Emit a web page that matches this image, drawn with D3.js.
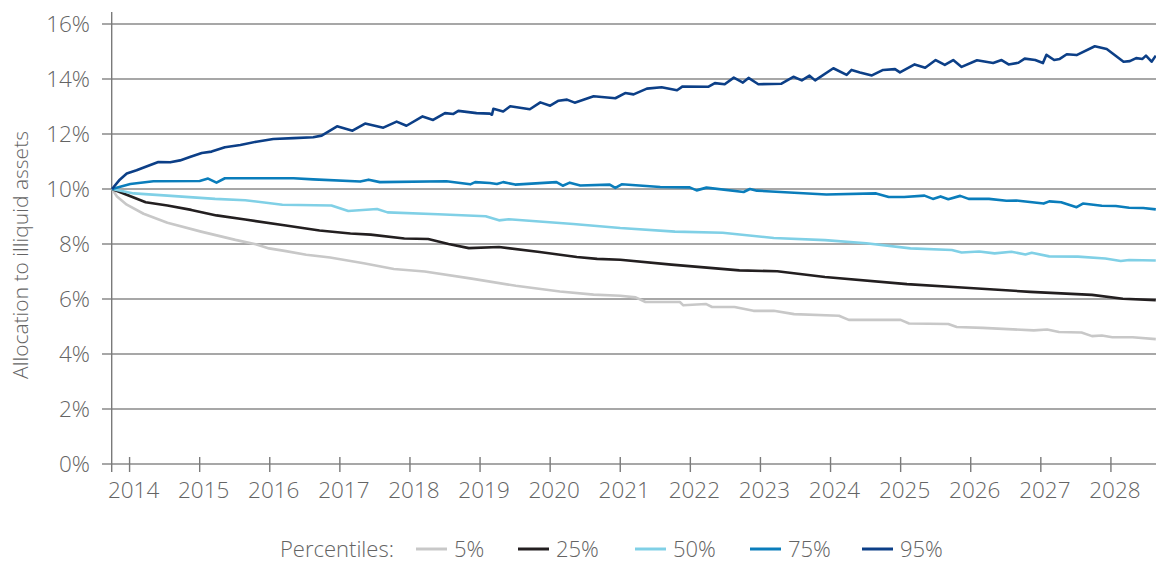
<!DOCTYPE html>
<html>
<head>
<meta charset="utf-8">
<script src="https://cdn.jsdelivr.net/npm/d3@7"></script>
<style>
  html, body { margin: 0; padding: 0; background: #fff; }
  svg { display: block; }
  text { font-family: "Open Sans", "Noto Sans", sans-serif; fill: #646464; font-weight: 300; }
</style>
</head>
<body>
<svg id="chart" width="1156" height="562"></svg>
<script>
// ---- data (decimal years, allocation in %) ----
const yTicks = [0, 2, 4, 6, 8, 10, 12, 14, 16];
const yearTicks = [2014, 2015, 2016, 2017, 2018, 2019, 2020, 2021, 2022, 2023, 2024, 2025, 2026, 2027, 2028];
const percentileLabels = ["5%", "25%", "50%", "75%", "95%"];
const seriesColors = ["#c8c8c8", "#231f20", "#80d0e6", "#0a7dbb", "#0c3f87"];

const years5 = [2013.75, 2013.82, 2013.96, 2014.20, 2014.54, 2015.02, 2015.51, 2015.80, 2015.99, 2016.21, 2016.52, 2016.86, 2017.34, 2017.77, 2018.21, 2018.88, 2019.51, 2020.14, 2020.62, 2021.00, 2021.22, 2021.36, 2021.85, 2021.90, 2022.22, 2022.31, 2022.63, 2022.90, 2023.19, 2023.48, 2024.12, 2024.26, 2025.00, 2025.12, 2025.68, 2025.80, 2026.17, 2026.90, 2027.09, 2027.26, 2027.58, 2027.73, 2027.87, 2028.02, 2028.31, 2028.64];
const values5 = [10.00, 9.73, 9.43, 9.10, 8.77, 8.45, 8.15, 7.99, 7.84, 7.75, 7.61, 7.51, 7.30, 7.09, 7.00, 6.74, 6.48, 6.27, 6.16, 6.12, 6.06, 5.89, 5.89, 5.77, 5.82, 5.71, 5.71, 5.57, 5.57, 5.45, 5.39, 5.24, 5.24, 5.11, 5.09, 4.98, 4.95, 4.86, 4.89, 4.80, 4.78, 4.65, 4.67, 4.61, 4.61, 4.54];

const years25 = [2013.75, 2014.23, 2014.54, 2014.88, 2015.24, 2015.65, 2016.23, 2016.71, 2017.15, 2017.44, 2017.92, 2018.26, 2018.55, 2018.84, 2019.27, 2019.85, 2020.38, 2020.67, 2021.00, 2021.73, 2022.70, 2023.24, 2023.92, 2025.09, 2025.87, 2026.85, 2027.73, 2028.17, 2028.64];
const values25 = [10.00, 9.52, 9.40, 9.24, 9.04, 8.89, 8.67, 8.49, 8.38, 8.34, 8.20, 8.18, 8.00, 7.85, 7.89, 7.71, 7.53, 7.46, 7.43, 7.25, 7.04, 7.01, 6.80, 6.54, 6.42, 6.26, 6.15, 6.01, 5.96];

const years50 = [2013.75, 2014.06, 2014.54, 2015.22, 2015.65, 2016.18, 2016.88, 2017.12, 2017.53, 2017.68, 2018.40, 2019.08, 2019.27, 2019.41, 2020.33, 2021.00, 2021.78, 2022.46, 2023.19, 2023.92, 2024.51, 2025.14, 2025.73, 2025.87, 2026.12, 2026.34, 2026.58, 2026.78, 2026.87, 2027.12, 2027.53, 2027.92, 2028.14, 2028.26, 2028.64];
const values50 = [10.00, 9.84, 9.76, 9.64, 9.59, 9.43, 9.40, 9.20, 9.27, 9.15, 9.08, 9.01, 8.86, 8.90, 8.73, 8.58, 8.45, 8.41, 8.22, 8.14, 8.03, 7.84, 7.78, 7.69, 7.73, 7.66, 7.72, 7.62, 7.68, 7.55, 7.54, 7.47, 7.38, 7.42, 7.40];

const years75 = [2013.75, 2014.01, 2014.34, 2015.00, 2015.12, 2015.24, 2015.36, 2016.34, 2016.62, 2017.29, 2017.41, 2017.57, 2018.52, 2018.86, 2018.93, 2019.14, 2019.24, 2019.33, 2019.50, 2020.09, 2020.18, 2020.28, 2020.43, 2020.85, 2020.93, 2021.02, 2021.57, 2021.99, 2022.09, 2022.23, 2022.76, 2022.85, 2022.95, 2023.94, 2024.65, 2024.83, 2025.05, 2025.34, 2025.46, 2025.57, 2025.68, 2025.85, 2025.97, 2026.26, 2026.51, 2026.65, 2027.04, 2027.12, 2027.29, 2027.51, 2027.60, 2027.87, 2028.07, 2028.26, 2028.46, 2028.64];
const values75 = [10.00, 10.18, 10.28, 10.29, 10.38, 10.23, 10.39, 10.39, 10.35, 10.27, 10.34, 10.25, 10.28, 10.17, 10.25, 10.22, 10.18, 10.25, 10.16, 10.25, 10.12, 10.23, 10.13, 10.16, 10.04, 10.17, 10.07, 10.06, 9.95, 10.05, 9.89, 10.00, 9.94, 9.80, 9.84, 9.71, 9.71, 9.76, 9.64, 9.73, 9.63, 9.75, 9.64, 9.64, 9.57, 9.58, 9.47, 9.55, 9.52, 9.34, 9.47, 9.39, 9.38, 9.32, 9.31, 9.26];

const years95 = [2013.75, 2013.86, 2013.96, 2014.10, 2014.24, 2014.41, 2014.58, 2014.72, 2014.86, 2015.03, 2015.17, 2015.36, 2015.58, 2015.81, 2016.05, 2016.34, 2016.62, 2016.74, 2016.96, 2017.18, 2017.36, 2017.62, 2017.81, 2017.95, 2018.18, 2018.33, 2018.50, 2018.62, 2018.69, 2018.95, 2019.14, 2019.17, 2019.19, 2019.33, 2019.43, 2019.71, 2019.86, 2020.00, 2020.12, 2020.24, 2020.35, 2020.62, 2020.93, 2021.07, 2021.19, 2021.38, 2021.59, 2021.81, 2021.89, 2022.26, 2022.35, 2022.49, 2022.62, 2022.75, 2022.83, 2022.97, 2023.30, 2023.47, 2023.59, 2023.70, 2023.78, 2024.04, 2024.23, 2024.30, 2024.42, 2024.59, 2024.75, 2024.92, 2024.99, 2025.20, 2025.35, 2025.50, 2025.63, 2025.75, 2025.87, 2026.09, 2026.32, 2026.44, 2026.54, 2026.68, 2026.77, 2026.92, 2027.03, 2027.08, 2027.19, 2027.27, 2027.37, 2027.51, 2027.77, 2027.94, 2028.18, 2028.27, 2028.36, 2028.45, 2028.50, 2028.58, 2028.64];
const values95 = [10.00, 10.34, 10.56, 10.68, 10.82, 10.98, 10.97, 11.04, 11.16, 11.31, 11.36, 11.52, 11.60, 11.72, 11.82, 11.85, 11.88, 11.94, 12.28, 12.12, 12.38, 12.23, 12.45, 12.30, 12.64, 12.51, 12.76, 12.73, 12.84, 12.76, 12.74, 12.70, 12.92, 12.82, 13.01, 12.90, 13.15, 13.03, 13.21, 13.25, 13.14, 13.37, 13.30, 13.49, 13.44, 13.65, 13.70, 13.59, 13.73, 13.72, 13.85, 13.81, 14.05, 13.87, 14.04, 13.81, 13.83, 14.08, 13.95, 14.12, 13.95, 14.39, 14.15, 14.33, 14.24, 14.13, 14.33, 14.36, 14.24, 14.53, 14.41, 14.69, 14.51, 14.69, 14.44, 14.68, 14.58, 14.69, 14.53, 14.59, 14.74, 14.69, 14.58, 14.88, 14.69, 14.73, 14.90, 14.87, 15.19, 15.09, 14.63, 14.65, 14.76, 14.73, 14.85, 14.63, 14.85];

const seriesYears = [years5, years25, years50, years75, years95];
const seriesValues = [values5, values25, values50, values75, values95];

// ---- layout ----
const svg = d3.select("#chart");
const x = d3.scaleLinear().domain([2013.745, 2028.643]).range([111.7, 1156]);
const y = d3.scaleLinear().domain([0, 16]).range([464, 24]);

// gridlines
svg.append("g").selectAll("line").data(yTicks).join("line")
  .attr("x1", 102).attr("x2", 1156)
  .attr("y1", d => y(d)).attr("y2", d => y(d))
  .attr("stroke", "#8a8a8a").attr("stroke-width", 1.4);

// y tick labels
svg.append("g").selectAll("text").data(yTicks).join("text")
  .attr("x", 90).attr("y", d => y(d))
  .attr("dy", "0.36em")
  .attr("text-anchor", "end")
  .style("font-size", "22.5px")
  .text(d => d + "%");

// y axis line
svg.append("line")
  .attr("x1", x.range()[0]).attr("x2", x.range()[0])
  .attr("y1", 12).attr("y2", 472)
  .attr("stroke", "#7a7a7a").attr("stroke-width", 1.4);

// x ticks (crossing the baseline)
svg.append("g").selectAll("line").data(yearTicks).join("line")
  .attr("x1", d => x(d)).attr("x2", d => x(d))
  .attr("y1", y(0) - 7).attr("y2", y(0) + 8)
  .attr("stroke", "#7a7a7a").attr("stroke-width", 1.4);

// x tick labels
svg.append("g").selectAll("text").data(yearTicks).join("text")
  .attr("x", d => x(d) + 4).attr("y", 498)
  .attr("text-anchor", "middle")
  .style("font-size", "22.5px")
  .text(d => d);

// y axis title
svg.append("text")
  .attr("transform", "translate(28,255) rotate(-90)")
  .attr("text-anchor", "middle")
  .style("font-size", "21px")
  .text("Allocation to illiquid assets");

// lines
svg.append("defs").append("clipPath").attr("id", "plotclip")
  .append("rect").attr("x", 100).attr("y", 0).attr("width", 1056).attr("height", 480);

const line = d3.line().x(d => x(d[0])).y(d => y(d[1]));
const plot = svg.append("g").attr("clip-path", "url(#plotclip)");
seriesYears.forEach((yrs, i) => {
  const pts = yrs.map((yr, j) => [yr, seriesValues[i][j]]);
  plot.append("path")
    .datum(pts)
    .attr("fill", "none")
    .attr("stroke", seriesColors[i])
    .attr("stroke-width", 2.6)
    .attr("stroke-linejoin", "round")
    .attr("d", line);
});

// legend
const legend = svg.append("g");
legend.append("text").attr("x", 280).attr("y", 557)
  .style("font-size", "22px").text("Percentiles:");
const legendLineX = [416, 518, 635, 750, 862];
percentileLabels.forEach((lab, i) => {
  legend.append("line")
    .attr("x1", legendLineX[i]).attr("x2", legendLineX[i] + 31)
    .attr("y1", 549).attr("y2", 549)
    .attr("stroke", seriesColors[i]).attr("stroke-width", 3);
  legend.append("text")
    .attr("x", legendLineX[i] + 38).attr("y", 557)
    .style("font-size", "22px").text(lab);
});
</script>
</body>
</html>
